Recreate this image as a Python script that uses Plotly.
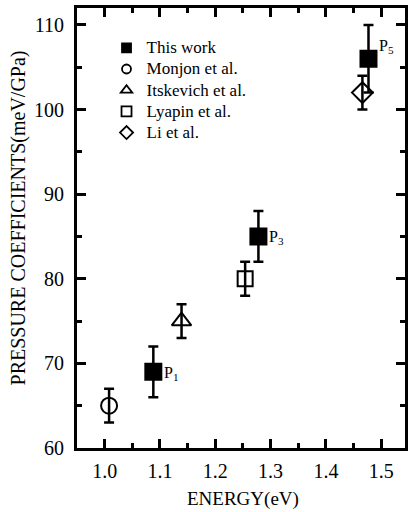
import plotly.graph_objects as go

# ---- data ----
tw_x = [1.088, 1.278, 1.477]
tw_y = [69, 85, 106]
tw_err = [3, 3, 4]
tw_labels = ["1", "3", "5"]

mon_x = [1.008]
mon_y = [65]
mon_err = [2]

its_x = [1.139]
its_y = [75]
its_err = [2]

lya_x = [1.254]
lya_y = [80]
lya_err = [2]

li_x = [1.466]
li_y = [102]
li_err = [2]

series_names = ["This work", "Monjon et al.", "Itskevich et al.", "Lyapin et al.", "Li et al."]

FONT = "Liberation Serif, Times New Roman, serif"

series = [
    (tw_x, tw_y, tw_err, "square", 16, 9),
    (mon_x, mon_y, mon_err, "circle-open", 16, 9),
    (its_x, its_y, its_err, "triangle-up-open", 17, 10),
    (lya_x, lya_y, lya_err, "square-open", 15, 10),
    (li_x, li_y, li_err, "diamond-open", 16, 10),
]

fig = go.Figure()
for name, (xs, ys, es, sym, size, lsize) in zip(series_names, series):
    fig.add_trace(go.Scatter(
        x=xs, y=ys, mode="markers", showlegend=False,
        marker=dict(symbol=sym, size=size, color="black", line=dict(color="black", width=2)),
        error_y=dict(type="data", array=es, visible=True, color="black", thickness=2.5, width=5),
    ))
for name, (xs, ys, es, sym, size, lsize) in zip(series_names, series):
    fig.add_trace(go.Scatter(
        x=[None], y=[None], mode="markers",
        name=f'<span style="font-size:17px">{name}</span>', showlegend=True,
        marker=dict(symbol=sym, size=lsize, color="black", line=dict(color="black", width=1.8)),
    ))

label_yshift = [-2, -1, 12]
for xv, yv, lab, ys in zip(tw_x, tw_y, tw_labels, label_yshift):
    fig.add_annotation(x=xv, y=yv, text=f"P<sub>{lab}</sub>", showarrow=False,
                       xanchor="left", yanchor="middle", xshift=9, yshift=ys,
                       font=dict(family=FONT, size=16, color="black"))

fig.add_annotation(text="PRESSURE COEFFICIENTS(meV/GPa)", textangle=-90, showarrow=False,
                   xref="paper", yref="paper", x=-0.178, y=0.523, xanchor="center", yanchor="middle",
                   font=dict(family=FONT, size=20, color="black"))
fig.add_annotation(text="ENERGY(eV)", showarrow=False,
                   xref="paper", yref="paper", x=0.5076, y=-0.116, xanchor="center", yanchor="middle",
                   font=dict(family=FONT, size=19, color="black"))

axis_common = dict(
    showline=True, linewidth=3, linecolor="black", mirror="allticks",
    ticks="inside", ticklen=9, tickwidth=2.5, tickcolor="black",
    showgrid=False, zeroline=False,
    tickfont=dict(family=FONT, size=20, color="black"),
)

fig.update_xaxes(range=[0.95, 1.543], tick0=1.0, dtick=0.1, tickformat=".1f",
                 minor=dict(dtick=0.05, ticks="inside", ticklen=5, tickwidth=2.5, tickcolor="black"),
                 ticklabelstandoff=3, **axis_common)
fig.update_yaxes(range=[60, 112], tick0=60, dtick=10,
                 minor=dict(dtick=5, ticks="inside", ticklen=5, tickwidth=2.5, tickcolor="black"),
                 ticklabelstandoff=6, **axis_common)

fig.update_layout(
    width=409, height=512,
    margin=dict(l=77, r=1, t=8, b=64),
    plot_bgcolor="white", paper_bgcolor="white",
    font=dict(family=FONT, color="black"),
    showlegend=True,
    legend=dict(x=0.09, y=0.945, xanchor="left", yanchor="top",
                font=dict(family=FONT, size=14, color="black"),
                bgcolor="rgba(0,0,0,0)", borderwidth=0, tracegroupgap=0,
                itemsizing="trace", itemwidth=30),
)

fig.write_html("out.html")
